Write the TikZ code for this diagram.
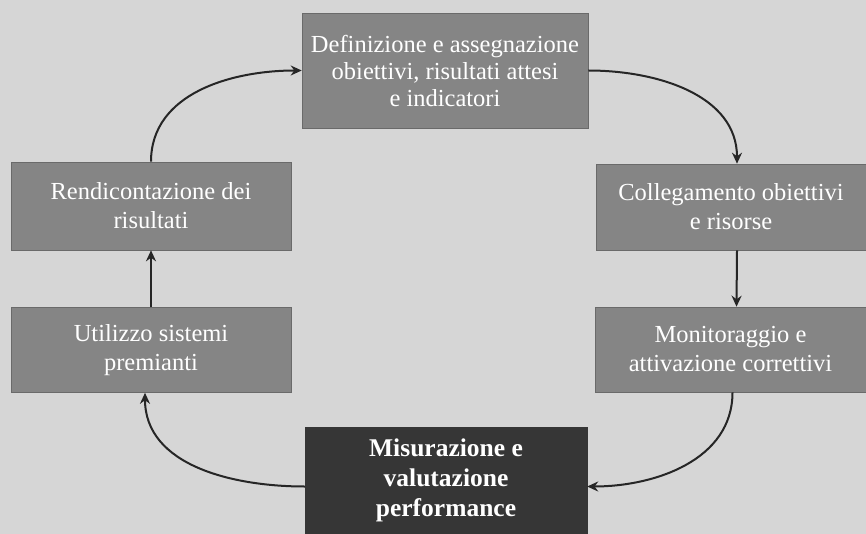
\documentclass[tikz,border=0pt]{standalone}
\usepackage{fontspec}
\setmainfont{Liberation Serif}
\usetikzlibrary{arrows.meta}
\definecolor{bgcol}{HTML}{D6D6D6}
\definecolor{boxcol}{HTML}{858585}
\definecolor{darkbox}{HTML}{363636}
\begin{document}
\begin{tikzpicture}[x=1pt,y=-1pt,
  box/.style={fill=boxcol, draw=boxcol!80!black, line width=0.6pt, text=white, align=center,
    font=\fontsize{24.5}{29}\selectfont, inner sep=0pt},
  darkstyle/.style={fill=darkbox, draw=darkbox, text=white, align=center,
    font=\fontsize{25.5}{30}\selectfont\bfseries, inner sep=0pt},
  conn/.style={-{Stealth[length=11pt,width=10pt]}, line width=2pt, draw=black!85}]
\fill[bgcol] (0,0) rectangle (866,534);
\useasboundingbox (0,0) rectangle (866,534);
\node[box, minimum width=286pt, minimum height=115pt,
  font=\fontsize{24.5}{27}\selectfont] (top) at (445,70.5)
  {Definizione e assegnazione\\obiettivi, risultati attesi\\e indicatori};
\node[box, minimum width=270pt, minimum height=86pt] (rt) at (731,207)
  {Collegamento obiettivi\\e risorse};
\node[box, minimum width=271pt, minimum height=85pt] (rb) at (730.5,349.5)
  {Monitoraggio e\\attivazione correttivi};
\node[darkstyle, minimum width=282pt, minimum height=107pt] (bot) at (446,480.5)
  {\rule{0pt}{10pt}Misurazione e\\valutazione\\performance};
\node[box, minimum width=280pt, minimum height=85pt] (lb) at (151,350)
  {Utilizzo sistemi\\premianti};
\node[box, minimum width=280pt, minimum height=88pt] (lt) at (151,206)
  {Rendicontazione dei\\risultati};
\draw[conn] (lt.north) to[out=90,in=180] (top.west);
\draw[conn] (top.east) to[out=0,in=90] ([xshift=6pt]rt.north);
\draw[conn] ([xshift=6pt]rt.south) -- ([xshift=6pt]rb.north);
\draw[conn] ([xshift=2pt]rb.south) to[out=-90,in=0] ([yshift=-6pt]bot.east);
\draw[conn] ([yshift=-6pt]bot.west) to[out=180,in=-90] ([xshift=-6pt]lb.south);
\draw[conn] (lb.north) -- (lt.south);
\end{tikzpicture}
\end{document}
